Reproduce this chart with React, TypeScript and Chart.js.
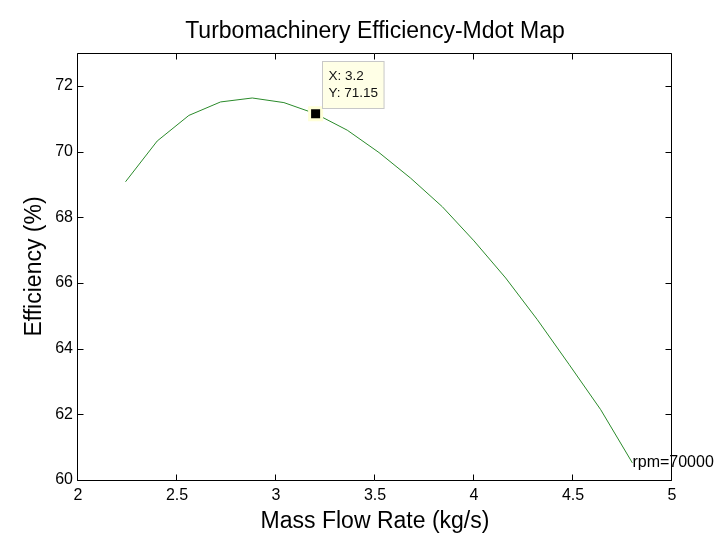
import React, { useEffect, useRef } from "react";
import { Chart, registerables } from "chart.js";

Chart.register(...registerables);

const massFlow = [2.24, 2.4, 2.56, 2.72, 2.88, 3.04, 3.2, 3.36, 3.52, 3.68, 3.84, 4.0, 4.16, 4.32, 4.48, 4.64, 4.8];
const efficiency = [69.08, 70.32, 71.1, 71.51, 71.63, 71.49, 71.15, 70.65, 69.97, 69.19, 68.32, 67.28, 66.15, 64.88, 63.52, 62.14, 60.52];
const xTicks = [2, 2.5, 3, 3.5, 4, 4.5, 5];
const yTicks = [60, 62, 64, 66, 68, 70, 72];
const xRange = [2, 5];
const yRange = [60, 73];
const tipX = 3.2;
const tipY = 71.15;
const curveLabel = "rpm=70000";
const titleText = "Turbomachinery Efficiency-Mdot Map";
const xTitle = "Mass Flow Rate (kg/s)";
const yTitle = "Efficiency (%)";

const FONT = "'Liberation Sans', Arial, Helvetica, sans-serif";

export default function App() {
  const ref = useRef<HTMLCanvasElement>(null);

  useEffect(() => {
    const canvas = ref.current;
    if (!canvas) return;

    const framePlugin = {
      id: "matlabFrame",
      afterDraw(chart: any) {
        const { ctx, chartArea, scales } = chart;
        const xs = scales.x;
        const ys = scales.y;
        const L = Math.floor(chartArea.left) - 0.5;
        const R = Math.round(chartArea.right) - 0.5;
        const T = Math.round(chartArea.top) + 0.5;
        const B = Math.round(chartArea.bottom) + 0.5;
        const tick = 6;
        ctx.save();
        ctx.strokeStyle = "#000";
        ctx.lineWidth = 1;
        ctx.beginPath();
        ctx.rect(L, T, R - L, B - T);
        for (const v of xTicks) {
          const px = Math.round(xs.getPixelForValue(v)) - 0.5;
          ctx.moveTo(px, B);
          ctx.lineTo(px, B - tick);
          ctx.moveTo(px, T);
          ctx.lineTo(px, T + tick);
        }
        for (const v of yTicks) {
          const py = Math.round(ys.getPixelForValue(v)) + 0.5;
          ctx.moveTo(L, py);
          ctx.lineTo(L + tick, py);
          ctx.moveTo(R, py);
          ctx.lineTo(R - tick, py);
        }
        ctx.stroke();

        // curve label at the last point
        const lx = xs.getPixelForValue(massFlow[massFlow.length - 1]);
        const ly = ys.getPixelForValue(efficiency[efficiency.length - 1]);
        ctx.fillStyle = "#000";
        ctx.font = `16px ${FONT}`;
        ctx.textAlign = "left";
        ctx.textBaseline = "middle";
        ctx.fillText(curveLabel, lx, ly);

        // data tip
        const mx = xs.getPixelForValue(tipX);
        const my = ys.getPixelForValue(tipY);
        const lines = [`X: ${tipX}`, `Y: ${tipY}`];
        ctx.font = `13.5px ${FONT}`;
        const w = Math.max(...lines.map((s) => ctx.measureText(s).width)) + 12;
        const h = 47;
        const bx = Math.round(mx + 6) + 0.5;
        const by = Math.round(my - 53) + 0.5;
        ctx.fillStyle = "#ffffe6";
        ctx.strokeStyle = "#c8c8c8";
        ctx.fillRect(bx, by, w, h);
        ctx.strokeRect(bx, by, w, h);
        ctx.fillStyle = "#111";
        ctx.textBaseline = "middle";
        ctx.fillText(lines[0], bx + 6, by + 15);
        ctx.fillText(lines[1], bx + 6, by + 32);
        ctx.restore();
      },
    };

    const chart = new Chart(canvas, {
      type: "line",
      data: {
        datasets: [
          {
            label: "tip",
            data: [{ x: tipX, y: tipY }],
            showLine: false,
            pointStyle: "rect",
            pointRadius: 8.5,
            pointBackgroundColor: "#000",
            pointBorderColor: "#ffffd8",
            pointBorderWidth: 3,
            order: 0,
          },
          {
            label: "rpm",
            data: massFlow.map((x, i) => ({ x, y: efficiency[i] })),
            borderColor: "#2a8a2a",
            borderWidth: 1,
            pointRadius: 0,
            tension: 0,
            fill: false,
            order: 1,
          },
        ],
      },
      options: {
        responsive: false,
        animation: false,
        devicePixelRatio: 1,
        events: [],
        layout: { padding: { left: 0, right: 53, top: 0, bottom: 0 } },
        plugins: {
          legend: { display: false },
          tooltip: { enabled: false },
          title: {
            display: true,
            text: titleText,
            fullSize: false,
            color: "#000",
            font: { family: FONT, size: 23, weight: "normal" },
            padding: { top: 18, bottom: 7.4 },
          },
        },
        scales: {
          x: {
            type: "linear",
            min: xRange[0],
            max: xRange[1],
            afterBuildTicks: (s: any) => {
              s.ticks = xTicks.map((v) => ({ value: v }));
            },
            afterFit: (s: any) => {
              s.height = 61;
            },
            grid: { display: false, drawTicks: false },
            border: { display: false },
            ticks: {
              autoSkip: false,
              maxRotation: 0,
              padding: 6,
              color: "#000",
              font: { family: FONT, size: 16 },
              callback: (v: any) => String(v),
            },
            title: {
              display: true,
              text: xTitle,
              color: "#000",
              font: { family: FONT, size: 23 },
              padding: { top: 0, bottom: 6 },
            },
          },
          y: {
            type: "linear",
            min: yRange[0],
            max: yRange[1],
            afterBuildTicks: (s: any) => {
              s.ticks = yTicks.map((v) => ({ value: v }));
            },
            afterFit: (s: any) => {
              s.width = 78;
            },
            grid: { display: false, drawTicks: false },
            border: { display: false },
            ticks: {
              autoSkip: false,
              padding: 5,
              color: "#000",
              font: { family: FONT, size: 16 },
              callback: (v: any) => String(v),
            },
            title: {
              display: true,
              text: yTitle,
              color: "#000",
              font: { family: FONT, size: 23 },
              padding: { top: 21, bottom: 0 },
            },
          },
        },
      },
      plugins: [framePlugin],
    } as any);

    return () => chart.destroy();
  }, []);

  return (
    <div style={{ position: "fixed", left: 0, top: 0, width: 725, height: 541, background: "#fff" }}>
      <canvas ref={ref} width={725} height={541} style={{ display: "block" }} />
    </div>
  );
}
